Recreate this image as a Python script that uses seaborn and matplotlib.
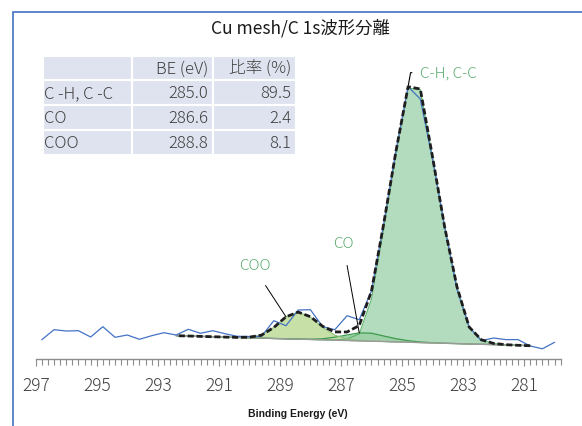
import numpy as np
import matplotlib
matplotlib.use("Agg")
import matplotlib.pyplot as plt
from matplotlib.ticker import MultipleLocator, FixedLocator
import seaborn as sns

# measured spectrum (binding energy, intensity a.u.)
be_raw = [296.8, 296.4, 296.0, 295.6, 295.2, 294.8, 294.4, 294.0, 293.6, 293.2,
          292.8, 292.4, 292.0, 291.6, 291.2, 290.8, 290.4, 290.0, 289.6, 289.2,
          288.8, 288.4, 288.0, 287.6, 287.2, 286.8, 286.4, 286.0, 285.6, 285.2,
          284.8, 284.4, 284.0, 283.6, 283.2, 282.8, 282.4, 282.0, 281.6, 281.2,
          280.8, 280.4, 280.0]
raw = [19.3, 29.3, 28.0, 28.3, 22.0, 32.3, 21.7, 24.0, 19.7, 23.3,
       26.3, 24.0, 29.7, 25.7, 28.3, 25.3, 22.7, 22.5, 22.7, 38.3,
       33.3, 49.0, 49.3, 32.3, 29.3, 43.3, 39.3, 68.0, 135.0, 208.0,
       272.3, 260.0, 200.0, 132.0, 70.0, 32.0, 18.3, 21.0, 19.4, 19.4,
       13.0, 10.2, 16.7]

# fit range
be_fit = [292.4, 292.0, 291.6, 291.2, 290.8, 290.4, 290.0, 289.6, 289.2, 288.8,
          288.4, 288.0, 287.6, 287.2, 286.8, 286.4, 286.0, 285.6, 285.2, 284.8,
          284.4, 284.0, 283.6, 283.2, 282.8, 282.4, 282.0, 281.6, 281.2, 280.8]
background = [23.3, 23.0, 22.6, 22.3, 21.9, 21.6, 21.2, 20.9, 20.5, 20.2,
              19.9, 19.5, 19.2, 18.8, 18.5, 18.1, 17.8, 17.5, 17.1, 16.8,
              16.4, 16.1, 15.7, 15.4, 15.0, 14.7, 14.4, 14.0, 13.7, 13.3]
peak_coo = [0, 0, 0, 0, 0, 0, 0.6, 3.0, 11.0, 22.0,
            27.0, 22.5, 12.5, 5.0, 1.5, 0.4, 0, 0, 0, 0,
            0, 0, 0, 0, 0, 0, 0, 0, 0, 0]
peak_co = [0, 0, 0, 0, 0, 0, 0, 0, 0, 0,
           0, 0.3, 1.0, 3.0, 5.5, 8.0, 8.0, 5.5, 3.2, 1.5,
           0.6, 0.2, 0, 0, 0, 0, 0, 0, 0, 0]
peak_ch = [0, 0, 0, 0, 0, 0, 0, 0, 0, 0,
           0, 0, 0, 0.3, 1.5, 7.0, 42.0, 112.0, 187.0, 254.0,
           253.0, 186.0, 116.0, 57.0, 17.0, 4.5, 1.2, 0.3, 0, 0]

# table contents
species = ["C -H, C -C", "CO", "COO"]
be_table = ["285.0", "286.6", "288.8"]
ratio_table = ["89.5", "2.4", "8.1"]

tick_vals = [297, 295, 293, 291, 289, 287, 285, 283, 281]

sns.set_theme(style="white")
plt.rcParams['font.family'] = ['Noto Sans CJK JP', 'DejaVu Sans']

W, H = 582, 427
fig = plt.figure(figsize=(W / 100, H / 100), dpi=100)
ax = fig.add_axes([35.7 / W, 67 / H, 525 / W, 300 / H])

x = np.array(be_fit)
bg = np.array(background)
coo = np.array(peak_coo)
co = np.array(peak_co)
ch = np.array(peak_ch)
envelope = bg + coo + co + ch

# fitted components
ax.fill_between(x, bg, bg + ch, color='#b2dcbd', lw=0, zorder=1)
ax.plot(x, bg + ch, color='#5cb36e', lw=0.8, zorder=2)
ax.fill_between(x, bg, bg + co, color='#9fd1a8', lw=0, zorder=1.5)
ax.plot(x, bg + co, color='#3c9a4c', lw=0.9, zorder=2)
ax.fill_between(x, bg, bg + coo, color='#c6e0a8', lw=0, zorder=1.5)
ax.plot(x, bg + coo, color='#8cc07a', lw=0.8, zorder=2)
ax.plot(x, bg, color='#9a9a9a', lw=1.0, zorder=2)

sns.lineplot(x=be_raw, y=raw, ax=ax, color='#4472c4', lw=0.9, zorder=3)
sns.lineplot(x=be_fit, y=envelope, ax=ax, color='#1e1e1e', lw=2.0,
             linestyle=(0, (2.2, 1.0)), zorder=4)

ax.set_xlim(297, 279.8)
ax.set_ylim(0, 300)

for s in ['left', 'right', 'top']:
    ax.spines[s].set_visible(False)
ax.spines['bottom'].set_color('#8c8c8c')
ax.spines['bottom'].set_linewidth(1.0)
ax.set_yticks([])
ax.xaxis.set_major_locator(FixedLocator(tick_vals))
ax.xaxis.set_minor_locator(MultipleLocator(0.2))
ax.tick_params(axis='x', which='major', direction='out', length=5, width=0.8,
               color='#8c8c8c', pad=7, labelsize=12.5, labelcolor='#404040',
               bottom=True)
ax.tick_params(axis='x', which='minor', direction='out', length=4, width=0.8,
               color='#8c8c8c', bottom=True)
for lab in ax.get_xticklabels():
    lab.set_fontweight('light')

ax.set_xlabel('Binding Energy (eV)', fontsize=7.5, fontweight='bold',
              family=['Liberation Sans', 'DejaVu Sans'], color='#1a1a1a',
              labelpad=10)

# annotations
green = '#5aaa6e'
i_ch = int(np.argmax(envelope))
ax.annotate('C-H, C-C', xy=(x[i_ch], envelope[i_ch]), xytext=(12, 14),
            textcoords='offset pixels', ha='left', va='center', fontsize=11,
            color=green, fontweight='light',
            arrowprops=dict(arrowstyle='-', color='black', lw=0.8,
                            connectionstyle='angle,angleA=180,angleB=80,rad=0',
                            relpos=(0, 0.5), shrinkA=3.5, shrinkB=1))
i_coo = 9
ax.annotate('COO', xy=(x[i_coo], bg[i_coo] + coo[i_coo]), xytext=(-31, 52),
            textcoords='offset pixels', ha='center', va='center', fontsize=11,
            color=green, fontweight='light',
            arrowprops=dict(arrowstyle='-', color='black', lw=0.7,
                            relpos=(0.55, 0), shrinkA=9, shrinkB=0))
i_co = 15
ax.annotate('CO', xy=(x[i_co], bg[i_co] + co[i_co]), xytext=(-16, 90),
            textcoords='offset pixels', ha='center', va='center', fontsize=11,
            color=green, fontweight='light',
            arrowprops=dict(arrowstyle='-', color='black', lw=0.7,
                            relpos=(0.55, 0), shrinkA=9, shrinkB=0))

fig.suptitle('Cu mesh/C 1s波形分離', x=300 / W, y=1 - 28.5 / H, va='center',
             fontsize=12.5, color='#1a1a1a')

# summary table
tab_ax = fig.add_axes([42.7 / W, (H - 155.7) / H, 253.3 / W, 99 / H])
tab_ax.axis('off')
cells = [[species[i], be_table[i], ratio_table[i]] for i in range(len(species))]
tbl = tab_ax.table(cellText=[['', 'BE (eV)', '比率 (%)']] + cells,
                   bbox=[0, 0, 1, 1], colWidths=[0.352, 0.322, 0.326],
                   cellLoc='right')
tbl.auto_set_font_size(False)
tbl.set_fontsize(12)
for (r, c), cell in tbl.get_celld().items():
    cell.set_facecolor('#dfe3ef')
    cell.set_edgecolor('white')
    cell.set_linewidth(1.5)
    cell.get_text().set_color('#404040')
    cell.get_text().set_fontweight('light')
    if c == 0:
        cell._loc = 'left'
        cell.get_text().set_horizontalalignment('left')
        cell.PAD = 0.01
    else:
        cell.PAD = 0.06

# frame around the chart
fig.add_artist(plt.Rectangle((12.5 / W, -0.05), 1.0, (H - 12.5) / H + 0.05,
                             transform=fig.transFigure, fill=False,
                             ec='#4472c4', lw=1.2))

fig.savefig('out.png', dpi=100)
